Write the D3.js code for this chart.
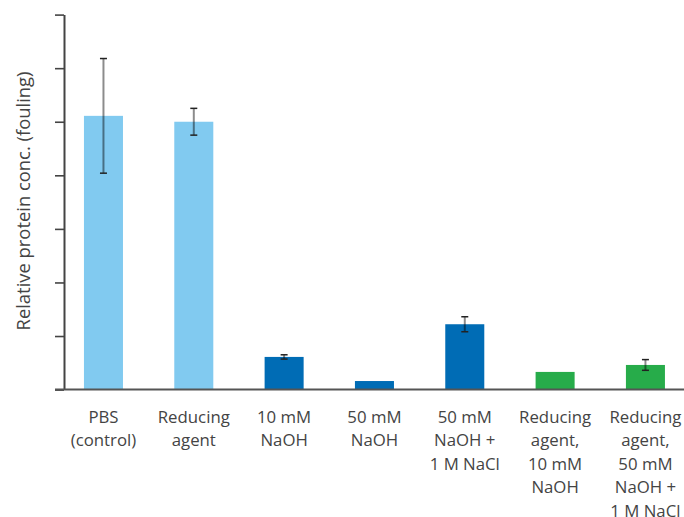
<!DOCTYPE html>
<html><head><meta charset="utf-8">
<script src="https://cdn.jsdelivr.net/npm/d3@7"></script>
<style>body{margin:0;background:#fff}svg{display:block}</style>
</head><body>
<svg id="c" width="684" height="517"></svg>
<script>
const categories = [
  ["PBS","(control)"],
  ["Reducing","agent"],
  ["10 mM","NaOH"],
  ["50 mM","NaOH"],
  ["50 mM","NaOH +","1 M NaCl"],
  ["Reducing","agent,","10 mM","NaOH"],
  ["Reducing","agent,","50 mM","NaOH +","1 M NaCl"]
];
const values = [5.11, 5.0, 0.61, 0.16, 1.22, 0.33, 0.46];
const errors = [1.07, 0.25, 0.04, null, 0.14, null, 0.10];
const groups = ["light","light","dark","dark","dark","green","green"];
const yTicks = [0,1,2,3,4,5,6,7];
const yLabel = "Relative protein conc. (fouling)";

const colors = {light:"#81CAF0", dark:"#006CB5", green:"#27AC4A"};
const svg = d3.select("#c");
const ids = categories.map((c,i)=>i);

const x = d3.scaleBand().domain(ids).range([58.3, 690.6]).paddingInner(0.568).paddingOuter(0.284);
const y = d3.scaleLinear().domain([0,7]).range([389.6, 14.6]);

// y axis
const yAxis = svg.append("g").attr("transform","translate(64,0)")
  .call(d3.axisLeft(y).tickValues(yTicks).tickFormat("").tickSize(9).tickSizeOuter(0));
yAxis.select(".domain").attr("stroke","#444").attr("stroke-width",2);
yAxis.selectAll(".tick line").attr("stroke","#444").attr("stroke-width",1.6);

// bars
svg.append("g").selectAll("rect").data(ids).join("rect")
  .attr("x", i=>x(i)).attr("width", x.bandwidth())
  .attr("y", i=>y(values[i])).attr("height", i=>y(0)-y(values[i]))
  .attr("fill", i=>colors[groups[i]]);

// x baseline
svg.append("line").attr("x1",55).attr("x2",684).attr("y1",y(0)).attr("y2",y(0))
  .attr("stroke","#555").attr("stroke-width",2);

// error bars
const eb = svg.append("g").selectAll("g").data(ids.filter(i=>errors[i]!=null)).join("g");
eb.append("line")
  .attr("x1", i=>x(i)+x.bandwidth()/2).attr("x2", i=>x(i)+x.bandwidth()/2)
  .attr("y1", i=>y(values[i]+errors[i])).attr("y2", i=>y(values[i]-errors[i]))
  .attr("stroke","#000").attr("stroke-opacity",0.45).attr("stroke-width",2);
["+","-"].forEach(s=>{
  eb.append("line")
    .attr("x1", i=>x(i)+x.bandwidth()/2-3.5).attr("x2", i=>x(i)+x.bandwidth()/2+3.5)
    .attr("y1", i=>y(values[i]+(s==="+"?1:-1)*errors[i]))
    .attr("y2", i=>y(values[i]+(s==="+"?1:-1)*errors[i]))
    .attr("stroke","#222").attr("stroke-width",1.5);
});

// x labels
const lab = svg.append("g").selectAll("text").data(ids).join("text")
  .attr("x", i=>x(i)+x.bandwidth()/2).attr("y", 422.5)
  .attr("text-anchor","middle")
  .attr("font-family","'Open Sans', sans-serif").attr("font-size",16.8).attr("fill","#444");
lab.each(function(i){
  d3.select(this).selectAll("tspan").data(categories[i]).join("tspan")
    .attr("x", x(i)+x.bandwidth()/2).attr("dy",(d,k)=>k===0?0:23.6).text(d=>d);
});

// y label
svg.append("text").attr("transform","translate(29.5,201) rotate(-90)")
  .attr("text-anchor","middle")
  .attr("font-family","'Open Sans', sans-serif").attr("font-size",18.4).attr("fill","#444")
  .text(yLabel);
</script>
</body></html>
